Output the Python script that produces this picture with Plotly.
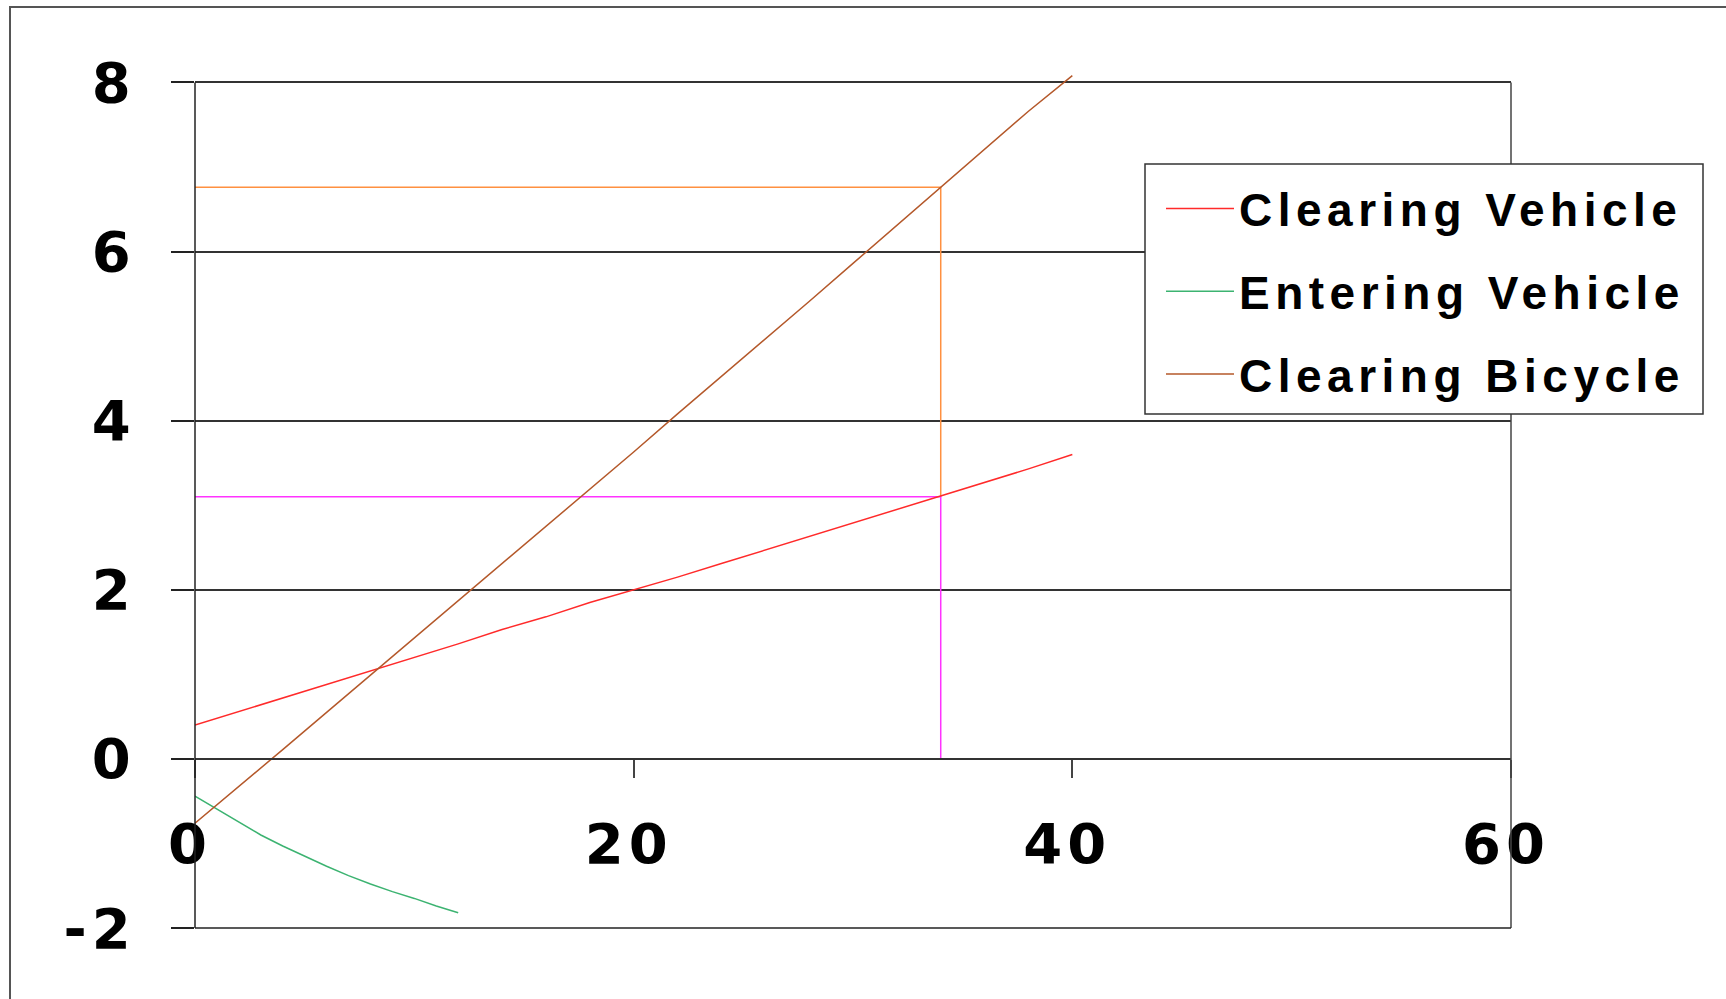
import plotly.graph_objects as go

# ---- data ----
x_steps = [0, 2, 4, 6, 8, 10, 12, 14, 16, 18, 20, 22, 24, 26, 28, 30, 32, 34, 36, 38, 40]
clearing_vehicle = [0.40, 0.56, 0.72, 0.88, 1.04, 1.20, 1.36, 1.53, 1.68, 1.85, 2.00,
                    2.15, 2.31, 2.47, 2.63, 2.79, 2.95, 3.11, 3.27, 3.43, 3.60]
clearing_bicycle = [-0.76, -0.33, 0.11, 0.55, 0.99, 1.43, 1.86, 2.31, 2.75, 3.19, 3.63,
                    4.08, 4.52, 4.97, 5.41, 5.86, 6.31, 6.76, 7.21, 7.66, 8.08]
entering_x = [0, 1, 2, 3, 4, 5, 6, 7, 8, 9, 10, 11, 12]
entering_vehicle = [-0.44, -0.59, -0.75, -0.90, -1.03, -1.15, -1.27, -1.38, -1.48,
                    -1.57, -1.65, -1.74, -1.82]

guide_x = 34
guide_bicycle_y = 6.76
guide_vehicle_y = 3.10

x_ticks = [0, 20, 40, 60]
y_ticks = [-2, 0, 2, 4, 6, 8]
y_tick_text = ["-2", "0", "2", "4", "6", "8"]
x_range = [0, 60]
y_range = [-2, 8.1]
y_frame = [-2, 8]

names = ["Clearing Vehicle", "Entering Vehicle", "Clearing Bicycle"]
colors = ["#ff2a2a", "#3cb371", "#b4582a"]
guide_colors = ["#ff9040", "#ff33ff"]

FONT = "Liberation Sans, Arial, sans-serif"
TICKFONT = "DejaVu Sans, sans-serif"

fig = go.Figure()

# guide lines
fig.add_trace(go.Scatter(x=[x_range[0], guide_x, guide_x],
                         y=[guide_bicycle_y, guide_bicycle_y, guide_vehicle_y],
                         mode="lines", line=dict(color=guide_colors[0], width=1.5),
                         showlegend=False, hoverinfo="skip"))
fig.add_trace(go.Scatter(x=[x_range[0], guide_x, guide_x],
                         y=[guide_vehicle_y, guide_vehicle_y, 0],
                         mode="lines", line=dict(color=guide_colors[1], width=1.5),
                         showlegend=False, hoverinfo="skip"))

fig.add_trace(go.Scatter(x=x_steps, y=clearing_vehicle, mode="lines", name=names[0],
                         line=dict(color=colors[0], width=1.5), legendgroup="a"))
fig.add_trace(go.Scatter(x=entering_x, y=entering_vehicle, mode="lines", name=names[1],
                         line=dict(color=colors[1], width=1.5), legendgroup="b"))
fig.add_trace(go.Scatter(x=x_steps, y=clearing_bicycle, mode="lines", name=names[2],
                         line=dict(color=colors[2], width=1.5), legendgroup="c"))

L, R, T, B = 195, 215, 74, 71
W, H = 1726, 999
pw, ph = W - L - R, H - T - B


def px_x(p):
    return (p - L) / pw


def px_y(p):
    return (H - B - p) / ph


def yfrac(v):
    return (v - y_range[0]) / (y_range[1] - y_range[0])


frame_line = dict(color="#222222", width=1.5)
shapes = [
    # outer chart border (extends past the picture)
    dict(type="rect", xref="paper", yref="paper", x0=px_x(10), x1=px_x(1760),
         y0=px_y(1030), y1=px_y(7), line=dict(color="#555555", width=2), layer="below"),
    # plot frame: left, right, bottom (paper refs so they are not clipped)
    dict(type="line", xref="paper", yref="paper", x0=0, x1=0,
         y0=yfrac(y_frame[0]), y1=yfrac(y_frame[1]), line=frame_line),
    dict(type="line", xref="paper", yref="paper", x0=1, x1=1,
         y0=yfrac(y_frame[0]), y1=yfrac(y_frame[1]), line=dict(color="#444444", width=1.5)),
    dict(type="line", xref="paper", yref="paper", x0=0, x1=1,
         y0=yfrac(y_frame[0]), y1=yfrac(y_frame[0]), line=frame_line),
    # legend box
    dict(type="rect", xref="paper", yref="paper", x0=px_x(1145), x1=px_x(1703),
         y0=px_y(414), y1=px_y(164), fillcolor="white",
         line=dict(color="#333333", width=1.5), layer="above"),
]

fig.update_layout(
    width=W, height=H,
    margin=dict(l=L, r=R, t=T, b=B, pad=0),
    paper_bgcolor="white", plot_bgcolor="white",
    showlegend=True,
    shapes=shapes,
    legend=dict(x=px_x(1161), y=px_y(172), xanchor="left", yanchor="top",
                bgcolor="rgba(0,0,0,0)", borderwidth=0,
                font=dict(family=FONT, size=46, color="black", weight="bold"),
                itemwidth=68, tracegroupgap=20, traceorder="grouped"),
    xaxis=dict(range=x_range, tickvals=x_ticks, ticks="outside", ticklen=18,
               tickcolor="#444444", tickwidth=1.5,
               showline=True, linecolor="#333333", linewidth=1.5,
               anchor="free", position=(0 - y_range[0]) / (y_range[1] - y_range[0]),
               showgrid=False, zeroline=False,
               tickfont=dict(family=TICKFONT, size=56, color="black", weight="bold"),
               ticklabelstandoff=18, ticklabelshift=-5),
    yaxis=dict(range=y_range, tickvals=y_ticks, ticktext=y_tick_text,
               ticks="outside", ticklen=23,
               tickcolor="#222222", tickwidth=1.5,
               showline=False, showgrid=True, gridcolor="#333333", gridwidth=1.5,
               zeroline=False,
               tickfont=dict(family=TICKFONT, size=56, color="black", weight="bold"),
               ticklabelstandoff=24),
)

post = """
var s = document.createElement('style');
s.textContent = 'body{margin:0;overflow:hidden}'
  + '.legendtext{letter-spacing:5.5px}'
  + '.xtick text,.ytick text{letter-spacing:5px}'
  + '.legend .scrollbox{clip-path:none !important}';
document.head.appendChild(s);
"""

fig.write_html("out.html", post_script=post, config={"displayModeBar": False})
